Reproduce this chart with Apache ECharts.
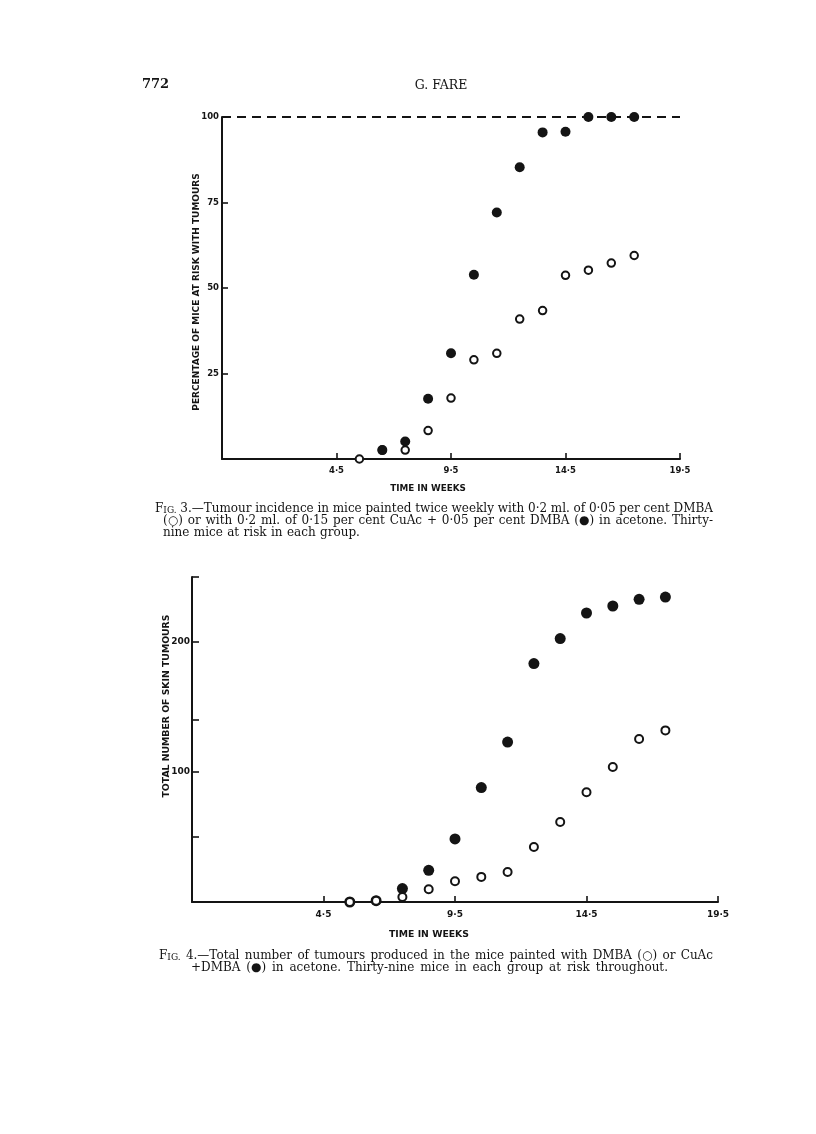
<!DOCTYPE html>
<html>
<head>
<meta charset="utf-8">
<script src="https://cdn.jsdelivr.net/npm/echarts@6/dist/echarts.min.js"></script>
<style>
html,body{margin:0;padding:0;background:#fff;}
#c{width:816px;height:1134px;}
</style>
</head>
<body>
<div id="c"></div>
<script>
// ---------------- data ----------------
const weeks = [5.5, 6.5, 7.5, 8.5, 9.5, 10.5, 11.5, 12.5, 13.5, 14.5, 15.5, 16.5, 17.5];
// Fig. 3 – percentage of mice at risk with tumours
const fig3Dmba = [0, 2.6, 2.6, 8.3, 17.8, 29.0, 30.9, 40.9, 43.4, 53.7, 55.2, 57.3, 59.5];
const fig3CuAcDmba = [null, 2.6, 5.1, 17.6, 30.9, 53.9, 72.1, 85.3, 95.5, 95.7, 100, 100, 100];
// Fig. 4 – total number of skin tumours
const fig4Dmba = [0, 1, 3.9, 9.8, 15.9, 19.3, 23.1, 42.3, 61.5, 84.4, 103.8, 125.4, 132];
const fig4CuAcDmba = [0, 1, 10.3, 24.4, 48.5, 88, 123, 183.4, 202.6, 222.3, 227.7, 232.8, 234.6];
// tick labels
const xTickValues = [4.5, 9.5, 14.5, 19.5];
const xTickLabels = ['4·5', '9·5', '14·5', '19·5'];
const fig3YLabels = [25, 50, 75, 100];
const fig4YTicks = [50, 100, 140, 200, 250];
const fig4YLabels = [100, 200];
// texts
const header = { page: '772', author: 'G. FARE' };
const fig3YName = 'PERCENTAGE OF MICE AT RISK WITH TUMOURS';
const fig4YName = 'TOTAL NUMBER OF SKIN TUMOURS';
const xName = 'TIME IN WEEKS';
const fig3Caption = [
  'FIG. 3.—Tumour incidence in mice painted twice weekly with 0·2 ml. of 0·05 per cent DMBA',
  '(○) or with 0·2 ml. of 0·15 per cent CuAc + 0·05 per cent DMBA (●) in acetone.  Thirty-',
  'nine mice at risk in each group.'
];
const fig4Caption = [
  'FIG. 4.—Total number of tumours produced in the mice painted with DMBA (○) or CuAc',
  '+DMBA (●) in acetone.  Thirty-nine mice in each group at risk throughout.'
];

// ---------------- styles ----------------
const ink = '#141414';
const sans = '"DejaVu Sans", "Liberation Sans", sans-serif';
const serif = '"DejaVu Serif", "Liberation Serif", serif';

function xFmt(v) {
  const i = xTickValues.findIndex(t => Math.abs(t - v) < 1e-6);
  return i >= 0 ? xTickLabels[i] : '';
}
function pairs(ys) {
  return weeks.map((w, i) => [w, ys[i]]).filter(p => p[1] !== null);
}

// ---------------- caption layout (justified words) ----------------
const mctx = document.createElement('canvas').getContext('2d');
function mw(t, s) { mctx.font = s + 'px ' + serif; return mctx.measureText(t).width; }
const capSize = 12, scSize = 9;
function wordParts(w) {
  if (w === 'FIG.') return [{ t: 'F', s: capSize }, { t: 'IG.', s: scSize }];
  return [{ t: w, s: capSize }];
}
function captionLine(text, x0, yBase, width, justify) {
  const words = text.split(/ +/).map(wordParts);
  const widths = words.map(ps => ps.reduce((a, p) => a + mw(p.t, p.s), 0));
  const total = widths.reduce((a, b) => a + b, 0);
  const gap = justify ? (width - total) / (words.length - 1) : mw(' ', capSize) * 1.15;
  const els = [];
  let x = x0;
  words.forEach((ps, i) => {
    let px = x;
    ps.forEach(p => {
      els.push({
        type: 'text', x: px, y: yBase,
        style: { text: p.t, fontSize: p.s, fontFamily: serif, fill: ink, align: 'left', verticalAlign: 'bottom' }
      });
      px += mw(p.t, p.s);
    });
    x += widths[i] + gap;
  });
  return els;
}

const graphics = [];
graphics.push({ type: 'text', x: 142, y: 85, style: { text: header.page, fontSize: 13, fontWeight: 'bold', fontFamily: serif, fill: ink, align: 'left', verticalAlign: 'middle' } });
graphics.push({ type: 'text', x: 441, y: 86, style: { text: header.author, fontSize: 12.5, fontFamily: serif, fill: ink, align: 'center', verticalAlign: 'middle' } });
// axis names
graphics.push({ type: 'text', x: 197, y: 292, rotation: Math.PI / 2, style: { text: fig3YName, fontSize: 9, fontWeight: 'bold', fontFamily: sans, fill: ink, align: 'center', verticalAlign: 'middle' } });
graphics.push({ type: 'text', x: 428, y: 489, style: { text: xName, fontSize: 8.8, fontWeight: 'bold', fontFamily: sans, fill: ink, align: 'center', verticalAlign: 'middle' } });
graphics.push({ type: 'text', x: 167, y: 706, rotation: Math.PI / 2, style: { text: fig4YName, fontSize: 9.3, fontWeight: 'bold', fontFamily: sans, fill: ink, align: 'center', verticalAlign: 'middle' } });
graphics.push({ type: 'text', x: 429, y: 935, style: { text: xName, fontSize: 9.3, fontWeight: 'bold', fontFamily: sans, fill: ink, align: 'center', verticalAlign: 'middle' } });
// captions
graphics.push(...captionLine(fig3Caption[0], 155, 515, 558, true));
graphics.push(...captionLine(fig3Caption[1], 163, 527, 550, true));
graphics.push(...captionLine(fig3Caption[2], 163, 538.5, 0, false));
graphics.push(...captionLine(fig4Caption[0], 159, 962, 554, true));
graphics.push(...captionLine(fig4Caption[1], 191, 974, 477, true));

// ---------------- axes ----------------
function xAxisCfg(gridIndex, fs, margin) {
  return {
    type: 'value', gridIndex, min: -0.5, max: 19.5, interval: 5,
    axisLine: { onZero: false, lineStyle: { color: ink, width: 2 } },
    axisTick: { inside: true, length: 6, lineStyle: { color: ink, width: 1.6 } },
    splitLine: { show: false },
    axisLabel: { formatter: xFmt, fontSize: fs, fontWeight: 'bold', fontFamily: sans, color: ink, margin }
  };
}

const option = {
  animation: false,
  backgroundColor: '#fff',
  grid: [
    { left: 222, top: 117, width: 458, height: 342, containLabel: false, outerBoundsMode: 'none' },
    { left: 192, top: 577, width: 526, height: 325, containLabel: false, outerBoundsMode: 'none' }
  ],
  xAxis: [xAxisCfg(0, 8.5, 7), xAxisCfg(1, 9, 8)],
  yAxis: [
    {
      type: 'value', gridIndex: 0, min: 0, max: 100, interval: 25,
      axisLine: { onZero: false, lineStyle: { color: ink, width: 2 } },
      axisTick: { inside: true, length: 6, lineStyle: { color: ink, width: 1.6 } },
      splitLine: { show: false },
      axisLabel: {
        fontSize: 8.5, fontWeight: 'bold', fontFamily: sans, color: ink, margin: 3,
        formatter: v => (fig3YLabels.indexOf(v) >= 0 ? String(v) : '')
      }
    },
    {
      type: 'value', gridIndex: 1, min: 0, max: 250, interval: 50,
      axisLine: { onZero: false, lineStyle: { color: ink, width: 2 } },
      axisTick: { inside: true, length: 7, customValues: fig4YTicks, lineStyle: { color: ink, width: 1.6 } },
      splitLine: { show: false },
      axisLabel: {
        fontSize: 9, fontWeight: 'bold', fontFamily: sans, color: ink, margin: 2,
        customValues: fig4YLabels,
        formatter: v => (fig4YLabels.indexOf(v) >= 0 ? String(v) : '')
      }
    }
  ],
  series: [
    {
      name: 'DMBA', type: 'scatter', xAxisIndex: 0, yAxisIndex: 0, z: 2,
      data: pairs(fig3Dmba), symbol: 'circle', symbolSize: 7.5,
      itemStyle: { color: '#fff', borderColor: ink, borderWidth: 2, opacity: 1 }
    },
    {
      name: 'CuAc + DMBA', type: 'scatter', xAxisIndex: 0, yAxisIndex: 0, z: 3,
      data: pairs(fig3CuAcDmba), symbol: 'circle', symbolSize: 10,
      itemStyle: { color: ink, opacity: 1 },
      markLine: {
        silent: true, symbol: 'none', z: 1,
        label: { show: false },
        lineStyle: { color: ink, width: 2, type: [9, 6] },
        data: [{ yAxis: 100 }]
      }
    },
    {
      name: 'CuAc + DMBA', type: 'scatter', xAxisIndex: 1, yAxisIndex: 1, z: 2,
      data: pairs(fig4CuAcDmba), symbol: 'circle', symbolSize: 11,
      itemStyle: { color: ink, opacity: 1 }
    },
    {
      name: 'DMBA', type: 'scatter', xAxisIndex: 1, yAxisIndex: 1, z: 3,
      data: pairs(fig4Dmba), symbol: 'circle', symbolSize: 8,
      itemStyle: { color: '#fff', borderColor: ink, borderWidth: 2, opacity: 1 }
    }
  ],
  graphic: graphics
};

const chart = echarts.init(document.getElementById('c'), null, { renderer: 'canvas' });
chart.setOption(option);
</script>
</body>
</html>
